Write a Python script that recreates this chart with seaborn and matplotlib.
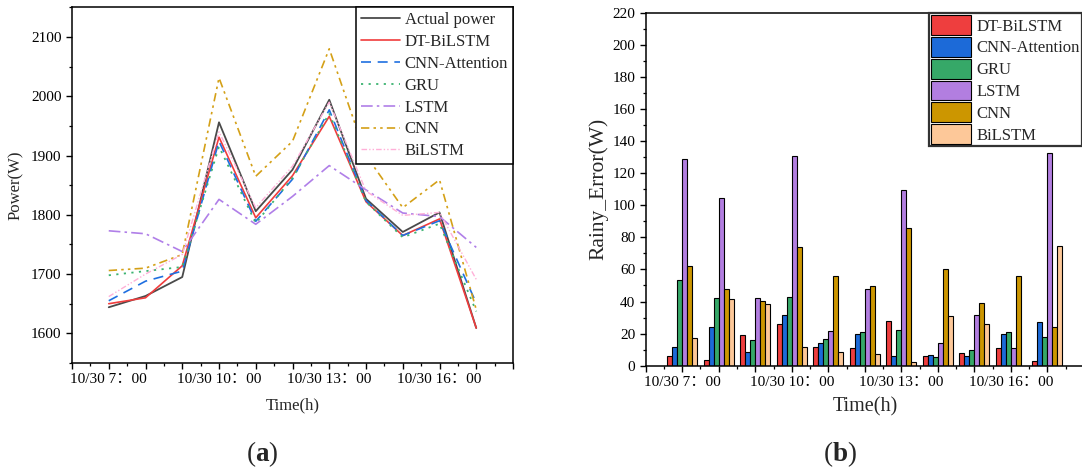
import numpy as np
import pandas as pd
import matplotlib
matplotlib.use("Agg")
import matplotlib.pyplot as plt
import seaborn as sns
from matplotlib.ticker import MultipleLocator, FuncFormatter

# ---------------- data ----------------
hours = [7, 8, 9, 10, 11, 12, 13, 14, 15, 16, 17]
label_hours = [7, 10, 13, 16]
date_prefix = "10/30"

actual_power = [1644, 1663, 1695, 1956, 1806, 1876, 1994, 1827, 1771, 1804, 1609]
dt_bilstm = [1650, 1660, 1714, 1931, 1795, 1866, 1966, 1822, 1765, 1793, 1609]
cnn_attention = [1655, 1688, 1705, 1924, 1789, 1860, 1977, 1824, 1765, 1790, 1651]
gru = [1698, 1705, 1712, 1915, 1786, 1862, 1971, 1822, 1762, 1785, 1637]
lstm = [1773, 1768, 1738, 1826, 1784, 1831, 1883, 1842, 1803, 1797, 1745]
cnn = [1706, 1710, 1733, 2031, 1865, 1924, 2080, 1900, 1812, 1859, 1640]
bilstm = [1662, 1700, 1733, 1940, 1812, 1882, 1990, 1840, 1799, 1804, 1691]

err_dt_bilstm = [6.0, 3.3, 18.9, 25.7, 11.6, 11.0, 27.6, 6.0, 7.7, 11.0, 3.1]
err_cnn_attention = [11.6, 24.0, 8.7, 31.5, 13.9, 19.5, 5.8, 6.4, 6.0, 19.5, 27.0]
err_gru = [53.3, 42.0, 16.2, 42.7, 16.4, 20.8, 22.4, 5.6, 9.5, 21.1, 17.8]
err_lstm = [129.0, 104.5, 41.9, 130.6, 21.4, 47.9, 109.7, 14.3, 31.3, 10.8, 132.5]
err_cnn = [62.0, 47.5, 40.2, 74.2, 56.2, 49.8, 85.6, 60.0, 39.2, 55.8, 23.9]
err_bilstm = [17.0, 41.7, 38.4, 11.8, 8.3, 7.5, 2.5, 30.7, 26.1, 0.0, 74.9]

line_names = ["Actual power", "DT-BiLSTM", "CNN-Attention", "GRU", "LSTM", "CNN", "BiLSTM"]
bar_names = ["DT-BiLSTM", "CNN-Attention", "GRU", "LSTM", "CNN", "BiLSTM"]

# ---------------- style ----------------
sns.set_theme(style="ticks")
SERIF = ["Liberation Serif", "Noto Sans CJK SC", "DejaVu Sans"]
plt.rcParams["font.family"] = SERIF
plt.rcParams["mathtext.fontset"] = "custom"
plt.rcParams["mathtext.rm"] = "Liberation Serif"
plt.rcParams["mathtext.bf"] = "Liberation Serif:bold"
plt.rcParams["axes.linewidth"] = 1.1

fig = plt.figure(figsize=(10.82, 4.74), dpi=100)
W, H = 1082, 474
ax1 = fig.add_axes([72 / W, 1 - 363 / H, 441 / W, (363 - 7.3) / H])
ax2 = fig.add_axes([645.7 / W, 1 - 365.7 / H, (1084 - 645.7) / W, (365.7 - 12.7) / H])

# ---------------- left: line chart ----------------
line_vals = [actual_power, dt_bilstm, cnn_attention, gru, lstm, cnn, bilstm]
line_colors = ["#4a4a4a", "#f03c3c", "#1f6fe0", "#3cb371", "#b07fe8", "#d4a017", "#ffb0d8"]
line_styles = ["-", "-", (0, (6, 4)), (0, (1.2, 3)), (0, (7, 2.5, 1.5, 2.5)),
               (0, (5, 2.5, 1.5, 2.5, 1.5, 2.5)), (0, (4, 1.5, 1, 1.5, 1, 1.5))]
line_widths = [1.3, 1.2, 1.2, 1.3, 1.2, 1.2, 1.0]

for name, vals, c, ls, lw in zip(line_names, line_vals, line_colors, line_styles, line_widths):
    sns.lineplot(x=hours, y=vals, ax=ax1, color=c, linestyle=ls, linewidth=lw, label=name)

ax1.set_xlim(6, 18)
ax1.set_ylim(1550, 2150)

def hour_fmt(v, pos):
    h = int(round(v))
    if h in label_hours and abs(v - h) < 1e-6:
        return f"{date_prefix} {h}\uff1a00"
    return ""

for ax in (ax1, ax2):
    ax.xaxis.set_major_locator(MultipleLocator(1))
    ax.xaxis.set_minor_locator(MultipleLocator(0.5))
    ax.xaxis.set_major_formatter(FuncFormatter(hour_fmt))
    ax.tick_params(axis="both", which="major", direction="out", length=4, width=1.0, colors="black")
    ax.tick_params(axis="both", which="minor", direction="out", length=2.5, width=0.9, colors="black")
    for s in ax.spines.values():
        s.set_color("black")

ax1.yaxis.set_major_locator(MultipleLocator(100))
ax1.yaxis.set_minor_locator(MultipleLocator(50))
ax1.tick_params(axis="both", which="major", labelsize=11)
ax1.set_xlabel("Time(h)", fontsize=12, labelpad=8)
ax1.set_ylabel("Power(W)", fontsize=12, labelpad=5)
for lab in ax1.get_xticklabels() + ax1.get_yticklabels():
    lab.set_family(SERIF)

leg1 = ax1.legend(loc="upper right", borderaxespad=0, fontsize=12, frameon=True,
                  fancybox=False, handlelength=2.3, handletextpad=0.3,
                  labelspacing=0.35, borderpad=0.3)
leg1.get_frame().set_edgecolor("black")
leg1.get_frame().set_linewidth(1.1)
leg1.get_frame().set_alpha(1)

# ---------------- right: grouped bar chart ----------------
err_vals = [err_dt_bilstm, err_cnn_attention, err_gru, err_lstm, err_cnn, err_bilstm]
bar_colors = ["#ee3e3e", "#1c6ad8", "#36a868", "#b27ee0", "#cc9600", "#fdc899"]
rows = []
for name, vals in zip(bar_names, err_vals):
    for h, v in zip(hours, vals):
        rows.append({"hour": h, "model": name, "value": v})
df = pd.DataFrame(rows)

sns.barplot(data=df, x="hour", y="value", hue="model", hue_order=bar_names,
            palette=dict(zip(bar_names, bar_colors)), native_scale=True,
            width=0.82, errorbar=None, edgecolor="black", linewidth=0.8,
            saturation=1, ax=ax2)

ax2.set_xlim(6, 18)
ax2.set_ylim(0, 220)
ax2.yaxis.set_major_locator(MultipleLocator(20))
ax2.yaxis.set_minor_locator(MultipleLocator(10))
ax2.xaxis.set_major_locator(MultipleLocator(1))
ax2.xaxis.set_minor_locator(MultipleLocator(0.5))
ax2.xaxis.set_major_formatter(FuncFormatter(hour_fmt))
ax2.tick_params(axis="both", which="major", labelsize=11)
ax2.spines["right"].set_visible(False)
ax2.set_xlabel("Time(h)", fontsize=14.5, labelpad=6)
ax2.set_ylabel("Rainy_Error(W)", fontsize=15.5, labelpad=3)
for lab in ax2.get_xticklabels() + ax2.get_yticklabels():
    lab.set_family(SERIF)

leg2 = ax2.legend(loc="upper right", bbox_to_anchor=(1 - 2 / 438.3, 1.0), borderaxespad=0,
                  fontsize=12, frameon=True, fancybox=False, handlelength=2.4,
                  handleheight=1.45, handletextpad=0.3, labelspacing=0.12, borderpad=0.15)
leg2.get_frame().set_edgecolor("#333333")
leg2.get_frame().set_linewidth(1.6)
leg2.get_frame().set_alpha(1)

# ---------------- panel labels ----------------
fig.text(262 / W, 1 - 454 / H, r"($\mathbf{a}$)", ha="center", va="center", fontsize=19.5)
fig.text(840 / W, 1 - 454 / H, r"($\mathbf{b}$)", ha="center", va="center", fontsize=19.5)

fig.savefig("out.png", dpi=100)
